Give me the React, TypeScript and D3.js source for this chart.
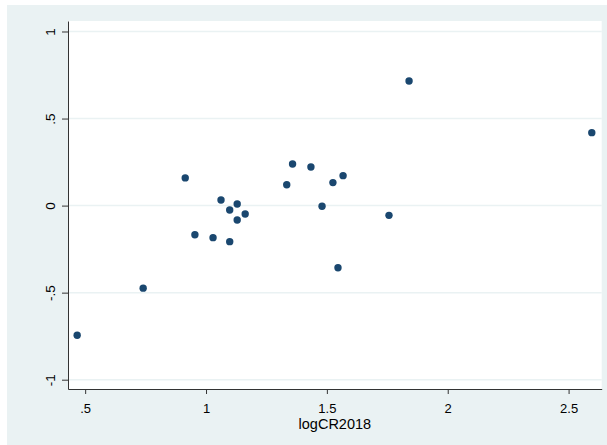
import * as d3 from 'd3';
import { useEffect, useRef } from 'react';

// logCR2018 (x) against the outcome (y)
const xValues = [
  0.467, 0.74, 0.914, 1.062, 1.129, 1.098, 1.162, 1.129, 0.954, 1.029, 1.098,
  1.358, 1.434, 1.334, 1.525, 1.567, 1.48, 1.757, 1.546, 1.84, 2.596,
];
const yValues = [
  -0.745, -0.474, 0.159, 0.032, 0.009, -0.025, -0.048, -0.083, -0.167, -0.184,
  -0.207, 0.239, 0.222, 0.12, 0.132, 0.172, -0.004, -0.056, -0.357, 0.716, 0.419,
];
const xTicks = [0.5, 1, 1.5, 2, 2.5];
const yTicks = [-1, -0.5, 0, 0.5, 1];
const xTitle = 'logCR2018';

// Stata style labels: drop the leading zero
const stataFmt = (v: number) => String(v).replace(/^(-?)0\./, '$1.');

const W = 607;
const H = 445;

function App() {
  const svgRef = useRef<SVGSVGElement>(null);

  useEffect(() => {
    if (!svgRef.current) {
      return;
    }
    const svg = d3.select(svgRef.current);
    svg.selectAll('*').remove();

    const plot = { left: 68, right: 601.7, top: 21, bottom: 389 };
    const font = '"Liberation Sans", Arial, sans-serif';

    // outer background (white strip at top/left like the export)
    svg.append('rect').attr('width', W).attr('height', H).attr('fill', '#ffffff');
    svg
      .append('rect')
      .attr('x', 7)
      .attr('y', 5)
      .attr('width', W - 7)
      .attr('height', H - 5)
      .attr('fill', '#eaf2f3');

    svg
      .append('rect')
      .attr('x', plot.left)
      .attr('y', plot.top)
      .attr('width', plot.right - plot.left)
      .attr('height', plot.bottom - plot.top)
      .attr('fill', '#ffffff');

    const x = d3.scaleLinear().domain([0.429, 2.637]).range([plot.left, plot.right]);
    const y = d3.scaleLinear().domain([-1.0534, 1.0603]).range([plot.bottom, plot.top]);

    // grid lines
    svg
      .append('g')
      .selectAll('line')
      .data(yTicks)
      .join('line')
      .attr('x1', plot.left)
      .attr('x2', plot.right)
      .attr('y1', (d) => y(d))
      .attr('y2', (d) => y(d))
      .attr('stroke', '#eaf2f3')
      .attr('stroke-width', 1.5);

    // x axis
    const xAxis = svg
      .append('g')
      .attr('transform', `translate(0,${plot.bottom})`)
      .call(
        d3
          .axisBottom(x)
          .tickValues(xTicks)
          .tickSize(5)
          .tickSizeOuter(0)
          .tickFormat((d) => stataFmt(d as number))
      );
    xAxis.select('.domain').attr('stroke', '#333333');
    xAxis.selectAll('.tick line').attr('stroke', '#333333');
    xAxis
      .selectAll('.tick text')
      .attr('y', 24)
      .attr('dy', null)
      .attr('fill', '#000000')
      .style('font-size', '13px')
      .style('font-family', font);

    // y axis
    const yAxis = svg
      .append('g')
      .attr('transform', `translate(${plot.left},0)`)
      .call(
        d3
          .axisLeft(y)
          .tickValues(yTicks)
          .tickSize(6)
          .tickSizeOuter(0)
          .tickFormat((d) => stataFmt(d as number))
      );
    yAxis.select('.domain').attr('stroke', '#333333');
    yAxis.selectAll('.tick line').attr('stroke', '#333333');
    yAxis
      .selectAll('.tick text')
      .attr('x', null)
      .attr('dy', null)
      .attr('fill', '#000000')
      .attr('text-anchor', 'middle')
      .attr('transform', 'translate(-13,0) rotate(-90)')
      .style('font-size', '13.5px')
      .style('font-family', font);

    // x title
    svg
      .append('text')
      .attr('x', (plot.left + plot.right) / 2)
      .attr('y', 429)
      .attr('text-anchor', 'middle')
      .style('font-size', '14.5px')
      .style('font-family', font)
      .text(xTitle);

    // points
    svg
      .append('g')
      .selectAll('circle')
      .data(xValues.map((v, i) => [v, yValues[i]]))
      .join('circle')
      .attr('cx', (d) => x(d[0]))
      .attr('cy', (d) => y(d[1]))
      .attr('r', 3.7)
      .attr('fill', '#1a476f');
  }, []);

  return (
    <svg
      ref={svgRef}
      width={W}
      height={H}
      style={{ position: 'fixed', left: 0, top: 0, display: 'block' }}
    />
  );
}

export default App;
